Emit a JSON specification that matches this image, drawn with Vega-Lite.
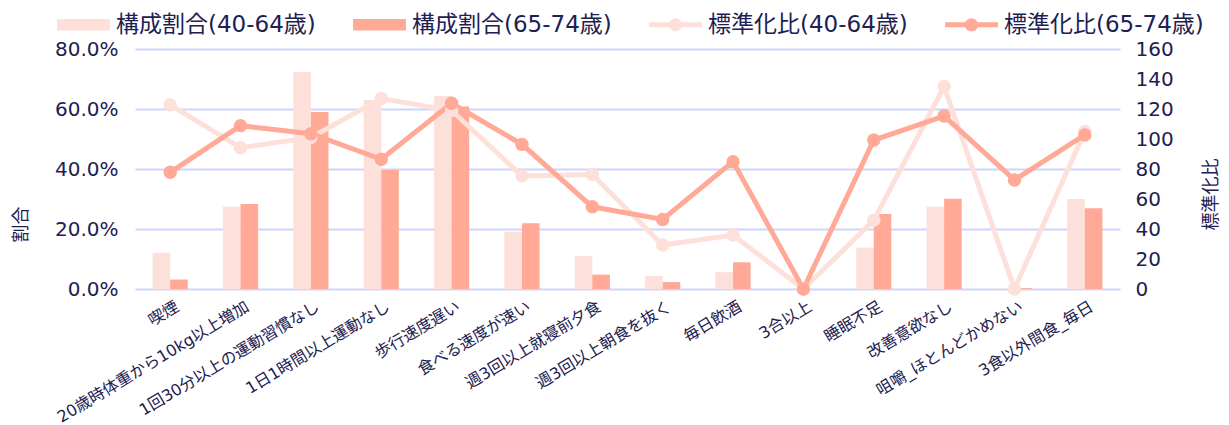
{
  "$schema": "https://vega.github.io/schema/vega-lite/v6.json",
  "width": 985,
  "height": 240,
  "autosize": "none",
  "padding": {"left": 135, "top": 49, "right": 109, "bottom": 136},
  "background": "white",
  "config": {"view": {"stroke": null}, "font": "DejaVu Sans, Noto Sans CJK JP"},
  "datasets": {
    "bars": [
      {"項目": "喫煙", "系列": "構成割合(40-64歳)", "割合": 0.121},
      {"項目": "喫煙", "系列": "構成割合(65-74歳)", "割合": 0.032},
      {"項目": "20歳時体重から10kg以上増加", "系列": "構成割合(40-64歳)", "割合": 0.274},
      {"項目": "20歳時体重から10kg以上増加", "系列": "構成割合(65-74歳)", "割合": 0.283},
      {"項目": "1回30分以上の運動習慣なし", "系列": "構成割合(40-64歳)", "割合": 0.723},
      {"項目": "1回30分以上の運動習慣なし", "系列": "構成割合(65-74歳)", "割合": 0.590},
      {"項目": "1日1時間以上運動なし", "系列": "構成割合(40-64歳)", "割合": 0.630},
      {"項目": "1日1時間以上運動なし", "系列": "構成割合(65-74歳)", "割合": 0.397},
      {"項目": "歩行速度遅い", "系列": "構成割合(40-64歳)", "割合": 0.643},
      {"項目": "歩行速度遅い", "系列": "構成割合(65-74歳)", "割合": 0.608},
      {"項目": "食べる速度が速い", "系列": "構成割合(40-64歳)", "割合": 0.191},
      {"項目": "食べる速度が速い", "系列": "構成割合(65-74歳)", "割合": 0.219},
      {"項目": "週3回以上就寝前夕食", "系列": "構成割合(40-64歳)", "割合": 0.110},
      {"項目": "週3回以上就寝前夕食", "系列": "構成割合(65-74歳)", "割合": 0.048},
      {"項目": "週3回以上朝食を抜く", "系列": "構成割合(40-64歳)", "割合": 0.043},
      {"項目": "週3回以上朝食を抜く", "系列": "構成割合(65-74歳)", "割合": 0.023},
      {"項目": "毎日飲酒", "系列": "構成割合(40-64歳)", "割合": 0.056},
      {"項目": "毎日飲酒", "系列": "構成割合(65-74歳)", "割合": 0.089},
      {"項目": "3合以上", "系列": "構成割合(40-64歳)", "割合": 0.0},
      {"項目": "3合以上", "系列": "構成割合(65-74歳)", "割合": 0.0},
      {"項目": "睡眠不足", "系列": "構成割合(40-64歳)", "割合": 0.138},
      {"項目": "睡眠不足", "系列": "構成割合(65-74歳)", "割合": 0.250},
      {"項目": "改善意欲なし", "系列": "構成割合(40-64歳)", "割合": 0.274},
      {"項目": "改善意欲なし", "系列": "構成割合(65-74歳)", "割合": 0.301},
      {"項目": "咀嚼_ほとんどかめない", "系列": "構成割合(40-64歳)", "割合": 0.002},
      {"項目": "咀嚼_ほとんどかめない", "系列": "構成割合(65-74歳)", "割合": 0.003},
      {"項目": "3食以外間食_毎日", "系列": "構成割合(40-64歳)", "割合": 0.300},
      {"項目": "3食以外間食_毎日", "系列": "構成割合(65-74歳)", "割合": 0.269}
    ],
    "lines": [
      {"項目": "喫煙", "系列": "標準化比(40-64歳)", "標準化比": 122.7},
      {"項目": "20歳時体重から10kg以上増加", "系列": "標準化比(40-64歳)", "標準化比": 94.2},
      {"項目": "1回30分以上の運動習慣なし", "系列": "標準化比(40-64歳)", "標準化比": 101.0},
      {"項目": "1日1時間以上運動なし", "系列": "標準化比(40-64歳)", "標準化比": 127.0},
      {"項目": "歩行速度遅い", "系列": "標準化比(40-64歳)", "標準化比": 119.0},
      {"項目": "食べる速度が速い", "系列": "標準化比(40-64歳)", "標準化比": 75.3},
      {"項目": "週3回以上就寝前夕食", "系列": "標準化比(40-64歳)", "標準化比": 76.4},
      {"項目": "週3回以上朝食を抜く", "系列": "標準化比(40-64歳)", "標準化比": 29.3},
      {"項目": "毎日飲酒", "系列": "標準化比(40-64歳)", "標準化比": 36.0},
      {"項目": "3合以上", "系列": "標準化比(40-64歳)", "標準化比": 0},
      {"項目": "睡眠不足", "系列": "標準化比(40-64歳)", "標準化比": 45.8},
      {"項目": "改善意欲なし", "系列": "標準化比(40-64歳)", "標準化比": 135.0},
      {"項目": "咀嚼_ほとんどかめない", "系列": "標準化比(40-64歳)", "標準化比": 0},
      {"項目": "3食以外間食_毎日", "系列": "標準化比(40-64歳)", "標準化比": 105.0},
      {"項目": "喫煙", "系列": "標準化比(65-74歳)", "標準化比": 77.8},
      {"項目": "20歳時体重から10kg以上増加", "系列": "標準化比(65-74歳)", "標準化比": 108.9},
      {"項目": "1回30分以上の運動習慣なし", "系列": "標準化比(65-74歳)", "標準化比": 103.5},
      {"項目": "1日1時間以上運動なし", "系列": "標準化比(65-74歳)", "標準化比": 86.5},
      {"項目": "歩行速度遅い", "系列": "標準化比(65-74歳)", "標準化比": 123.8},
      {"項目": "食べる速度が速い", "系列": "標準化比(65-74歳)", "標準化比": 96.4},
      {"項目": "週3回以上就寝前夕食", "系列": "標準化比(65-74歳)", "標準化比": 54.8},
      {"項目": "週3回以上朝食を抜く", "系列": "標準化比(65-74歳)", "標準化比": 46.4},
      {"項目": "毎日飲酒", "系列": "標準化比(65-74歳)", "標準化比": 84.9},
      {"項目": "3合以上", "系列": "標準化比(65-74歳)", "標準化比": 0},
      {"項目": "睡眠不足", "系列": "標準化比(65-74歳)", "標準化比": 99.3},
      {"項目": "改善意欲なし", "系列": "標準化比(65-74歳)", "標準化比": 115.3},
      {"項目": "咀嚼_ほとんどかめない", "系列": "標準化比(65-74歳)", "標準化比": 72.7},
      {"項目": "3食以外間食_毎日", "系列": "標準化比(65-74歳)", "標準化比": 102.7}
    ]
  },
  "layer": [
    {
      "data": {"name": "bars"},
      "mark": {"type": "bar"},
      "encoding": {
        "x": {
          "field": "項目", "type": "nominal",
          "sort": ["喫煙", "20歳時体重から10kg以上増加", "1回30分以上の運動習慣なし", "1日1時間以上運動なし", "歩行速度遅い", "食べる速度が速い", "週3回以上就寝前夕食", "週3回以上朝食を抜く", "毎日飲酒", "3合以上", "睡眠不足", "改善意欲なし", "咀嚼_ほとんどかめない", "3食以外間食_毎日"],
          "scale": {"paddingInner": 0.5, "paddingOuter": 0.25},
          "axis": {"title": null, "labelAngle": -31, "labelAlign": "right", "labelBaseline": "top", "labelFontSize": 16, "labelColor": "#1d2050", "ticks": false, "domain": false, "labelPadding": 9, "grid": false, "labelLimit": 400, "labelOffset": 3}
        },
        "xOffset": {"field": "系列", "type": "nominal", "scale": {"paddingInner": 0}},
        "y": {
          "field": "割合", "type": "quantitative",
          "scale": {"domain": [0, 0.8]},
          "axis": {"title": "割合", "format": ".1%", "values": [0, 0.2, 0.4, 0.6, 0.8], "labelFontSize": 20, "labelColor": "#1d2050", "ticks": false, "domain": false, "labelPadding": 17, "grid": true, "gridColor": "#cdd6fa", "gridWidth": 2, "titleFontSize": 18, "titleColor": "#1d2050", "titleFontWeight": "normal", "titleX": -114, "titleY": 175, "titleAngle": 270, "titleAlign": "center", "titleBaseline": "middle"}
        },
        "color": {
          "field": "系列", "type": "nominal",
          "scale": {"domain": ["構成割合(40-64歳)", "構成割合(65-74歳)", "標準化比(40-64歳)", "標準化比(65-74歳)"], "range": ["#fde0da", "#ffa996", "#fde0da", "#ffa996"]},
          "legend": {
            "orient": "none", "legendX": -78, "legendY": -51, "direction": "horizontal", "columns": 4, "title": null,
            "labelFontSize": 23, "labelLimit": 400, "labelColor": "#1d2050", "symbolSize": 2800, "symbolStrokeWidth": 0, "labelOffset": 6, "columnPadding": 37, "padding": 0,
            "encode": {"symbols": {"update": {
              "shape": {"signal": "indexof(datum.value, '構成') === 0 ? 'M-1,-0.22H1V0.22H-1Z' : 'M-1,-0.095H1V0.095H-1Z M-0.25,0A0.25,0.25 0 1,1 0.25,0A0.25,0.25 0 1,1 -0.25,0Z'"},
              "fill": {"scale": "color", "field": "value"},
              "stroke": {"value": "transparent"},
              "opacity": {"value": 1}
            }}}
          }
        }
      }
    },
    {
      "data": {"name": "lines"},
      "mark": {"type": "line", "strokeWidth": 5, "point": {"filled": true, "size": 180, "opacity": 1}},
      "encoding": {
        "x": {"field": "項目", "type": "nominal", "sort": ["喫煙", "20歳時体重から10kg以上増加", "1回30分以上の運動習慣なし", "1日1時間以上運動なし", "歩行速度遅い", "食べる速度が速い", "週3回以上就寝前夕食", "週3回以上朝食を抜く", "毎日飲酒", "3合以上", "睡眠不足", "改善意欲なし", "咀嚼_ほとんどかめない", "3食以外間食_毎日"]},
        "y": {
          "field": "標準化比", "type": "quantitative",
          "scale": {"domain": [0, 160]},
          "axis": {"orient": "right", "title": "標準化比", "values": [0, 20, 40, 60, 80, 100, 120, 140, 160], "labelFontSize": 20, "labelColor": "#1d2050", "ticks": false, "domain": false, "labelPadding": 15, "grid": false, "titleFontSize": 18, "titleColor": "#1d2050", "titleFontWeight": "normal", "titleX": 91, "titleY": 145, "titleAngle": 270, "titleAlign": "center", "titleBaseline": "middle"}
        },
        "color": {"field": "系列", "type": "nominal"}
      }
    }
  ],
  "resolve": {"scale": {"y": "independent"}}
}
